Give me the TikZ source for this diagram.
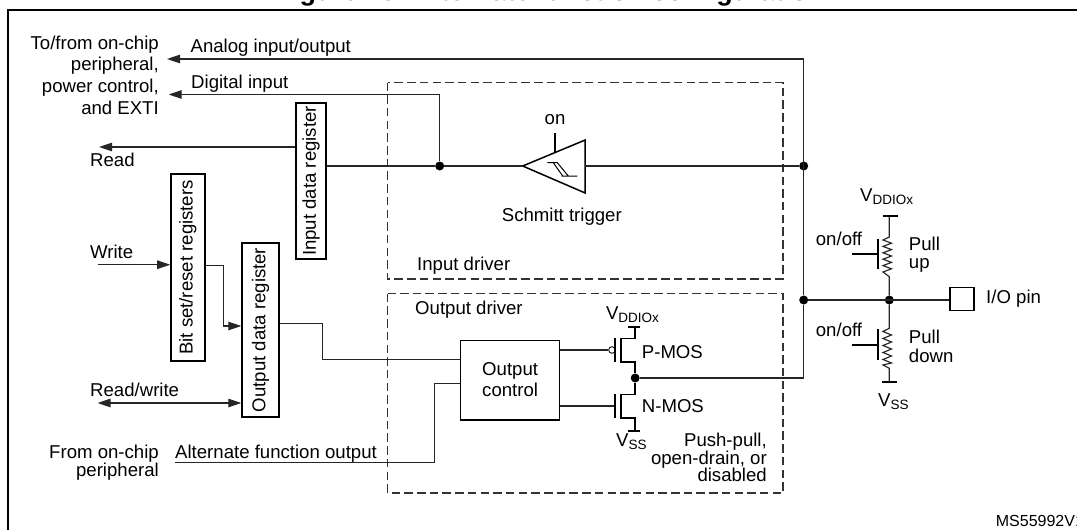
\documentclass[tikz,border=0pt]{standalone}
\usepackage{fontspec}
\setmainfont{Liberation Sans}
\usetikzlibrary{arrows.meta}
\newcommand\subs[1]{\raisebox{-3.2pt}{\fontsize{13.5}{14}\selectfont #1}}
\tikzset{
  wire/.style={line width=1.15pt,draw=black!85},
  thick wire/.style={line width=1.8pt,draw=black},
  tipped/.style={wire,-{Triangle[length=13pt,width=8.5pt]}},
  both tipped/.style={wire,{Triangle[length=13pt,width=8.5pt]}-{Triangle[length=13pt,width=8.5pt]}},
  lab/.style={inner sep=0pt,anchor=base west,font=\fontsize{18.6}{20}\selectfont},
  labr/.style={inner sep=0pt,anchor=base east,font=\fontsize{18.6}{20}\selectfont},
  labc/.style={inner sep=0pt,anchor=base,font=\fontsize{18.6}{20}\selectfont},
  regbox/.style={draw=black,line width=1.4pt,rectangle,inner sep=0pt,rotate=90,font=\fontsize{18.6}{20}\selectfont},
  dot/.style={circle,fill=black,inner sep=0pt,minimum size=9pt},
  driver/.style={draw=black!80,line width=1.1pt,dash pattern=on 8.5pt off 4.2pt},
}
\begin{document}
\begin{tikzpicture}[x=1pt,y=-1pt]
\useasboundingbox (0,0) rectangle (1077,530);
% frame and title
\draw[line width=2pt] (1077,10) -- (7.6,10) -- (7.6,530);
\node[inner sep=0pt,anchor=base,font=\bfseries\fontsize{27}{30}\selectfont] (title) at (550,1) {Figure 16. Alternate function configuration};
% dashed driver boxes
\draw[driver] (387.7,82.5) rectangle (783,279);
\draw[driver] (387.7,293.7) rectangle (783,493);
% registers and boxes
\node[regbox,minimum width=156pt,minimum height=30pt] (inreg) at (311,181) {Input data register};
\node[regbox,minimum width=187pt,minimum height=34pt] (bitreg) at (187.9,267.5) {Bit set/reset registers};
\node[regbox,minimum width=174pt,minimum height=37pt] (outreg) at (260.5,330) {Output data register};
\node[draw=black,line width=1.4pt,rectangle,inner sep=0pt,minimum width=98.8pt,minimum height=79.7pt] (ctrl) at (510.1,380.2) {};
\node[draw=black,line width=1.4pt,rectangle,inner sep=0pt,minimum width=24pt,minimum height=23.2pt] (pin) at (962,298.9) {};
% junctions
\node[dot] (jin) at (439.7,166) {};
\node[dot] (jtrig) at (803.7,166) {};
\node[dot] (jbus) at (803.7,300) {};
\node[dot] (jpull) at (889.3,300) {};
\node[dot] (jmos) at (635.2,378) {};
% free ends
\coordinate (analogend) at (167,59);
\coordinate (digend) at (168.7,94.5);
\coordinate (readend) at (99,147);
\coordinate (writestart) at (97.5,264.7);
\coordinate (rwend) at (97.5,403);
\coordinate (altstart) at (174.6,462.3);
% Schmitt trigger
\coordinate (trigin) at (522.7,166);
\coordinate (trigout) at (585.2,166);
\coordinate (trigtop) at (585.2,140);
\coordinate (trigbot) at (585.2,193);
\coordinate (trigon) at (555,153);
\coordinate (trigonend) at (555,133);
\draw[line width=1.5pt,line join=miter] (trigin) -- (trigtop) -- (trigbot) -- cycle;
\draw[line width=2pt] (trigon) -- (trigonend);
\draw[line width=1pt] (547.3,162.7) -- (557.3,162.7) -- (568.3,176) (553.3,162.7) -- (562.7,176) (561.7,176) -- (577.3,176);
% connectors
\draw[tipped] (jbus) -- (803.7,59) -- (analogend);
\draw[wire] (jmos) -- (803.7,378) -- (jbus);
\draw[tipped] (jin) -- (439.7,94.5) -- (digend);
\draw[tipped] (inreg.north |- readend) -- (readend);
\draw[wire] (inreg.south |- jin) -- (jin) -- (trigin);
\draw[wire] (trigout) -- (jtrig);
\draw[tipped] (writestart) -- (bitreg.north |- writestart);
\draw[tipped] (bitreg.south |- 0,265.5) -- (223.8,265.5) -- (223.8,326) -- (outreg.north |- 0,326);
\draw[both tipped] (rwend) -- (outreg.north |- rwend);
\draw[wire] (outreg.south |- 0,323.3) -- (322.3,323.3) -- (322.3,359.7) -- (ctrl.west |- 0,359.7);
\draw[wire] (altstart) -- (434.6,462.3) -- (434.6,383.3) -- (ctrl.west |- 0,383.3);
\draw[wire] (jbus) -- (pin.west |- jbus);
% P-MOS
\coordinate (ptop) at (635.2,326.7);
\node[circle,draw=black!85,line width=1pt,inner sep=0pt,minimum size=6.6pt] (pbub) at (612,350) {};
\draw[wire] (ctrl.east |- pbub) -- (pbub);
\draw[thick wire] (615.3,338) -- (615.3,362);
\draw[thick wire] (628.4,326.7) -- (640.3,326.7);
\draw[line width=1.5pt] (ptop) -- (635.2,338.5) -- (620.8,338.5) -- (620.8,362) -- (635.2,362) -- (jmos);
% N-MOS
\draw[wire] (ctrl.east |- 0,406) -- (615.3,406);
\draw[thick wire] (615.3,394) -- (615.3,418);
\draw[line width=1.5pt] (jmos) -- (635.2,394.5) -- (620.8,394.5) -- (620.8,418) -- (635.2,418) -- (635.2,431);
\draw[thick wire] (628.4,431) -- (640.3,431);
% pull up
\draw[wire] (jpull) -- (889.3,276.7) -- (883,272) -- (891.5,268.8) -- (883,265.6) -- (891.5,262.4) -- (883,259.2) -- (891.5,256) -- (883,252.8) -- (891.5,249.6) -- (883,246.4) -- (891.5,243.2) -- (883,240) -- (889.3,237) -- (889.3,215.7);
\draw[thick wire] (882.7,215.7) -- (898.3,215.7);
\draw[thick wire] (877.7,239.3) -- (877.7,269.3);
\draw[thick wire] (851.7,254) -- (877.7,254);
% pull down
\draw[wire] (jpull) -- (889.3,328.3) -- (883,331.5) -- (891.5,335) -- (883,338.5) -- (891.5,342) -- (883,345.5) -- (891.5,349) -- (883,352.5) -- (891.5,356) -- (883,359.5) -- (891.5,363) -- (883,365) -- (889.3,368.3) -- (889.3,382.3);
\draw[thick wire] (881.7,382.3) -- (897.3,382.3);
\draw[thick wire] (877.7,329.3) -- (877.7,360);
\draw[thick wire] (852,345) -- (877.7,345);
% labels
\node[labr] (t1) at (159,49) {To/from on-chip};
\node[labr] (t2) at (159,70.7) {peripheral,};
\node[labr] (t3) at (159,92.7) {power control,};
\node[labr] (t4) at (159,114) {and EXTI};
\node[lab] (lanalog) at (190.4,52) {Analog input/output};
\node[lab] (ldig) at (191,88) {Digital input};
\node[lab] (lread) at (90,166) {Read};
\node[lab] (lwrite) at (90,258) {Write};
\node[lab] (lrw) at (90,396) {Read/write};
\node[labr] (lfrom1) at (159,458.3) {From on-chip};
\node[labr] (lfrom2) at (159,476.7) {peripheral};
\node[lab] (lalt) at (175,458.3) {Alternate function output};
\node[labc] (lon) at (555,124) {on};
\node[lab] (lschmitt) at (501.7,221.7) {Schmitt trigger};
\node[lab] (lind) at (417,270) {Input driver};
\node[lab] (loutd) at (415,314.3) {Output driver};
\node[lab] (lo1) at (482,375) {Output};
\node[lab] (lo2) at (482,396.7) {control};
\node[lab] (lvd1) at (605.8,319) {V\subs{DDIOx}};
\node[lab] (lp) at (641.7,358.3) {P-MOS};
\node[lab] (ln) at (641.7,412.3) {N-MOS};
\node[lab] (lvs1) at (616,446) {V\subs{SS}};
\node[labr] (lpp1) at (767,446) {Push-pull,};
\node[labr] (lpp2) at (767,464) {open-drain, or};
\node[labr] (lpp3) at (767,481.7) {disabled};
\node[lab] (lvd2) at (860,201.7) {V\subs{DDIOx}};
\node[lab] (lonoff1) at (815.7,245) {on/off};
\node[lab] (lpu1) at (908.7,250) {Pull};
\node[lab] (lpu2) at (908.7,268) {up};
\node[lab] (lonoff2) at (815.7,336.7) {on/off};
\node[lab] (lpd1) at (908.7,343.3) {Pull};
\node[lab] (lpd2) at (908.7,362.3) {down};
\node[lab] (lvs2) at (878,406.7) {V\subs{SS}};
\node[lab] (lpin) at (986,303.3) {I/O pin};
\node[inner sep=0pt,anchor=base west,font=\fontsize{16}{18}\selectfont] (lms) at (995.7,526.7) {MS55992V1};
\end{tikzpicture}
\end{document}
